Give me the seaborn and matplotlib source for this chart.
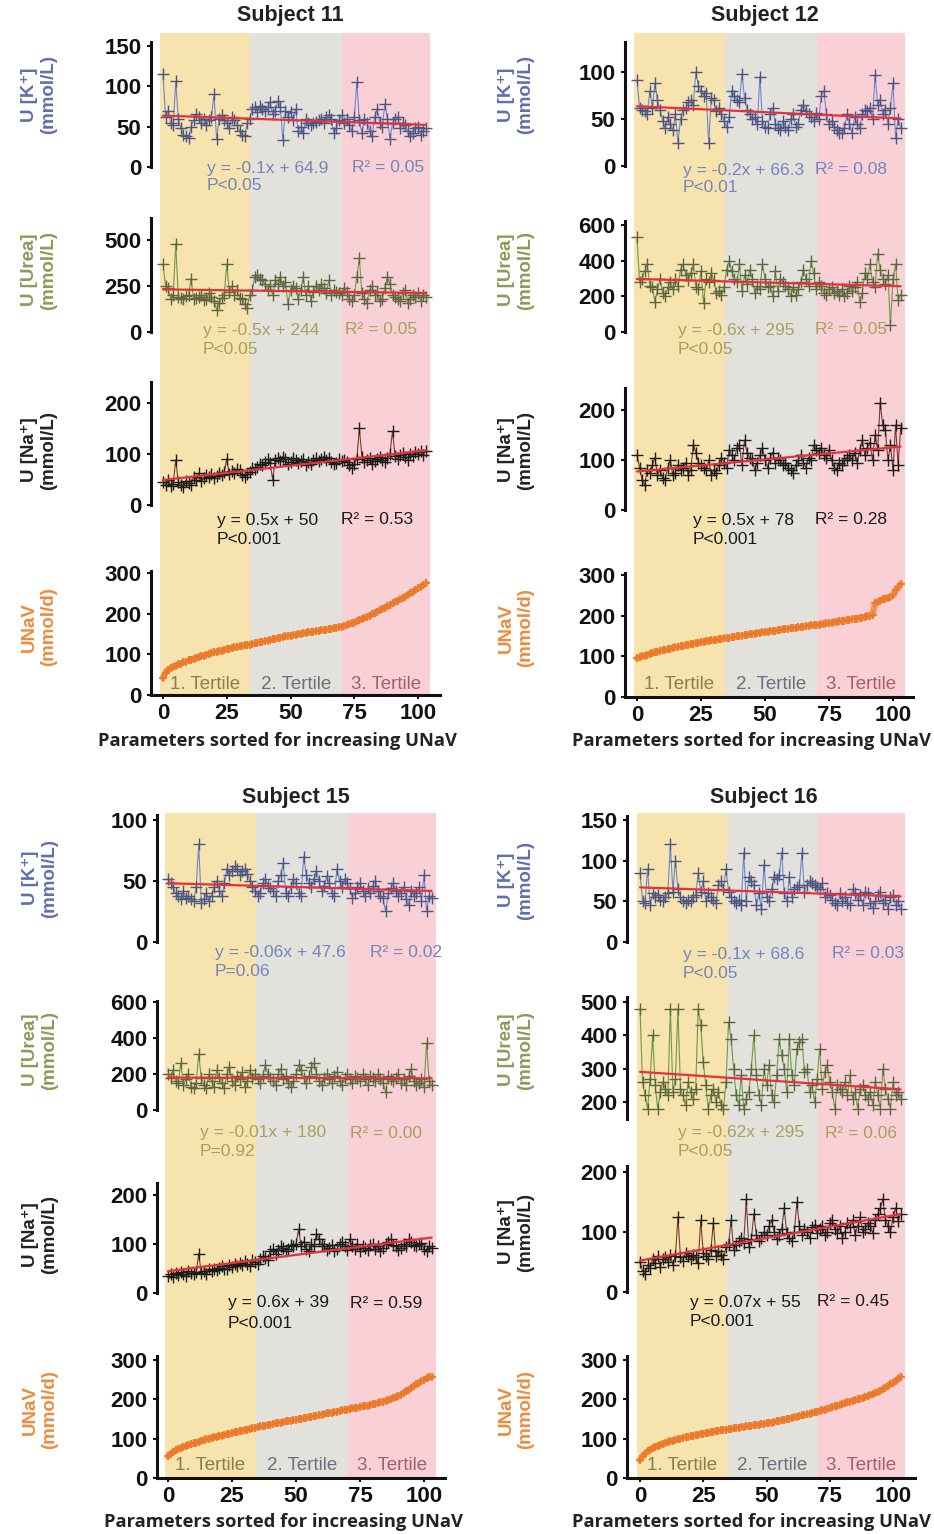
import numpy as np
import matplotlib
matplotlib.use("Agg")
import matplotlib.pyplot as plt
import seaborn as sns

# ---------------- DATA ----------------
K11 = [115,62,70,55,52,106,60,48,40,38,36,50,58,66,62,55,60,52,58,62,
       90,35,60,64,58,55,48,62,58,52,45,40,38,55,60,72,75,68,76,72,
       70,74,80,66,70,82,75,34,70,62,68,58,72,45,50,42,60,55,52,54,
       56,58,60,55,62,65,60,42,48,58,64,55,60,52,45,62,105,58,42,60,
       55,45,38,62,72,55,50,78,60,35,54,60,62,48,55,52,45,38,42,48,
       50,40,45,48]
UREA11 = [370,250,240,180,200,480,190,185,180,195,200,290,180,185,190,200,175,180,210,190,
          170,120,160,185,200,370,220,250,200,230,185,180,150,130,200,230,300,310,290,280,
          260,230,250,200,280,260,300,250,270,150,230,250,240,180,230,300,200,250,170,220,
          250,230,260,240,210,280,200,230,220,210,200,240,220,180,170,200,300,400,210,180,
          160,230,250,200,220,170,180,240,300,260,200,190,180,170,210,230,160,180,200,190,
          210,170,200,190]
NA11 = [45,40,50,38,42,88,45,40,35,48,44,40,55,50,62,48,52,58,55,60,
        52,56,62,58,65,90,60,66,62,70,68,58,55,60,65,72,70,75,80,78,
        85,90,82,50,88,92,86,95,90,80,85,92,88,82,86,90,78,84,80,88,
        92,86,90,95,88,92,85,80,82,90,86,88,84,78,72,80,90,150,95,85,
        88,92,80,86,90,95,88,84,92,100,145,96,90,98,102,94,88,100,96,104,
        100,106,98,105]
UNAV11 = [42,55,62,66,70,72,75,77,80,82,85,87,89,91,93,95,97,99,101,103,
          105,106,108,109,111,112,114,115,117,118,120,121,122,123,124,125,127,128,130,131,
          132,134,135,137,138,140,141,142,144,145,146,147,148,150,151,152,153,154,155,156,
          157,158,159,160,161,162,163,164,165,167,168,170,172,174,176,178,181,184,187,190,
          192,195,198,202,205,208,211,214,218,221,225,228,232,235,238,242,246,250,254,258,
          262,266,270,275]

K12 = [92,62,60,58,55,80,62,88,70,60,48,40,52,45,38,55,25,50,60,62,
       68,70,65,100,85,80,75,78,25,72,70,58,62,55,48,42,52,80,75,70,
       68,98,72,60,55,50,52,45,95,48,42,40,55,62,45,40,38,48,42,38,
       50,55,42,45,60,65,58,55,52,48,56,50,75,80,55,45,48,42,38,35,
       35,40,55,45,35,52,45,40,55,60,58,62,50,97,65,70,55,60,45,62,
       88,30,50,40]
UREA12 = [530,280,300,340,380,260,250,170,240,300,220,200,250,280,240,300,260,350,380,320,
          290,330,380,250,240,340,160,300,280,330,290,220,230,210,250,350,400,340,300,280,
          380,230,320,270,350,300,220,260,240,380,300,250,260,200,340,230,300,280,260,240,
          200,250,210,240,280,350,300,260,400,330,240,280,260,220,210,240,250,220,230,210,
          240,200,220,260,230,250,280,170,220,330,300,380,280,250,440,350,300,270,320,40,
          300,380,180,210]
NA12 = [110,85,60,50,80,75,90,105,70,80,65,60,85,100,70,75,90,80,85,95,
        70,80,130,115,95,90,85,80,100,70,80,75,90,105,95,85,120,110,100,125,
        130,90,140,115,105,100,80,95,110,125,100,85,105,115,95,105,100,90,95,85,
        80,75,90,100,110,95,85,105,100,130,120,115,125,110,105,120,100,85,80,95,
        90,100,105,110,100,115,95,120,140,110,125,135,100,150,120,215,170,160,100,130,
        80,170,90,165]
UNAV12 = [95,98,100,102,104,106,108,110,111,113,115,116,118,119,121,122,123,125,126,127,
          128,130,131,132,133,135,136,137,138,139,140,141,142,143,144,145,146,147,148,149,
          150,151,152,153,154,155,156,157,158,159,160,161,162,163,163,164,165,166,167,168,
          169,170,170,171,172,173,174,175,176,177,177,178,179,180,181,182,183,184,185,186,
          187,188,189,190,191,192,193,194,195,196,198,200,202,230,234,237,240,242,244,246,
          250,262,270,278]

K15 = [52,48,45,40,38,35,42,36,38,35,34,45,80,32,35,40,34,38,45,50,
       42,38,48,60,55,58,62,60,55,58,60,56,50,45,42,38,40,48,52,46,
       44,42,38,50,55,65,40,38,45,52,48,40,38,70,55,48,45,52,58,50,
       42,46,54,48,40,38,60,50,45,52,48,44,36,40,45,48,42,38,44,40,
       46,50,42,38,36,25,40,44,48,42,38,40,45,35,30,42,38,40,45,34,
       55,25,38,36]
UREA15 = [200,180,220,160,150,260,140,170,200,130,120,150,310,180,140,120,200,160,130,220,
          180,150,120,200,240,160,140,190,170,210,130,160,220,180,200,170,150,190,250,200,
          180,160,140,200,230,170,190,150,130,160,200,250,220,180,150,190,240,260,200,160,
          140,180,200,170,150,190,210,160,140,180,200,170,150,190,180,160,200,170,140,190,
          180,160,200,175,150,100,190,170,160,180,200,150,170,140,190,230,160,140,150,170,
          130,370,160,140]
NA15 = [35,38,32,40,36,42,38,35,45,40,38,42,80,40,45,38,48,44,50,46,
        52,55,48,50,58,54,60,56,62,58,65,60,55,68,64,60,70,75,72,68,
        85,90,80,88,95,92,85,90,98,95,100,130,95,105,90,85,100,95,120,110,
        100,95,88,92,98,85,90,100,105,95,88,110,95,90,100,85,95,92,88,98,
        100,90,95,85,92,100,105,110,98,95,88,92,100,96,110,105,98,95,100,102,
        90,85,95,92]
UNAV15 = [55,62,66,70,73,76,79,81,84,86,88,90,92,94,96,98,100,102,104,105,
          107,108,110,111,113,114,116,117,119,120,122,123,125,126,128,129,131,132,133,135,
          136,137,139,140,141,142,144,145,146,147,148,150,151,152,153,155,156,157,158,160,
          161,162,164,165,166,168,169,170,172,173,174,175,177,178,179,180,182,183,184,186,
          187,189,190,192,194,196,198,200,203,206,209,212,216,220,224,228,233,238,242,246,
          250,253,256,258]

K16 = [85,50,48,90,45,60,55,58,52,50,55,60,120,62,100,65,55,50,48,52,
       50,55,58,85,62,75,50,60,55,52,48,70,75,65,90,62,55,50,48,52,
       45,110,50,80,75,70,45,60,40,95,55,50,65,80,78,82,110,60,50,80,
       55,65,68,70,110,62,70,75,72,70,68,65,72,55,60,58,52,48,45,60,
       50,55,48,45,65,60,52,58,45,62,60,48,42,50,58,62,48,52,40,55,
       58,45,50,40]
UREA16 = [480,260,220,180,270,400,250,180,230,260,240,220,480,230,270,480,240,220,190,260,
          230,210,240,480,430,320,250,180,220,240,200,230,190,180,260,440,390,300,220,190,
          280,180,210,230,300,400,280,220,190,300,250,310,220,200,280,390,340,300,230,390,
          280,250,360,380,390,290,300,230,250,200,270,360,240,290,310,260,230,180,250,240,
          230,260,220,280,210,230,180,240,250,220,210,230,190,260,220,180,300,240,210,180,
          260,220,230,210]
NA16 = [50,35,30,45,40,55,48,60,42,55,58,50,62,45,60,125,58,52,65,60,
        55,62,58,48,120,65,60,55,70,115,60,68,62,55,75,80,120,70,78,85,
        90,82,155,75,88,130,95,85,90,100,95,110,120,100,88,95,105,140,98,90,
        85,100,150,110,95,105,100,90,108,112,98,105,110,95,100,115,120,105,98,110,
        90,100,115,108,120,95,110,125,100,105,115,110,98,120,130,140,155,120,110,100,
        125,140,118,130]
UNAV16 = [45,55,62,68,72,76,79,82,85,87,89,91,93,95,97,99,100,102,103,105,
          106,108,109,110,112,113,114,115,116,118,119,120,121,122,123,124,125,126,127,128,
          129,130,131,132,133,134,135,136,137,138,139,140,141,143,144,145,147,148,150,151,
          153,154,156,157,159,160,162,163,165,167,168,170,172,174,176,178,180,182,184,186,
          188,190,192,194,196,198,200,202,204,206,208,210,213,216,219,222,226,230,234,238,
          242,247,252,258]

SUBJECT_TITLES = ["Subject 11", "Subject 12", "Subject 15", "Subject 16"]
EQUATIONS = [["y = -0.1x + 64.9", "y = -0.5x + 244", "y = 0.5x + 50"],
             ["y = -0.2x + 66.3", "y = -0.6x + 295", "y = 0.5x + 78"],
             ["y = -0.06x + 47.6", "y = -0.01x + 180", "y = 0.6x + 39"],
             ["y = -0.1x + 68.6", "y = -0.62x + 295", "y = 0.07x + 55"]]
R2_LABELS = [["R² = 0.05", "R² = 0.05", "R² = 0.53"],
             ["R² = 0.08", "R² = 0.05", "R² = 0.28"],
             ["R² = 0.02", "R² = 0.00", "R² = 0.59"],
             ["R² = 0.03", "R² = 0.06", "R² = 0.45"]]
P_LABELS = [["P<0.05", "P<0.05", "P<0.001"],
            ["P<0.01", "P<0.05", "P<0.001"],
            ["P=0.06", "P=0.92", "P<0.001"],
            ["P<0.05", "P<0.05", "P<0.001"]]
YLABELS = ["U [K⁺]\n(mmol/L)", "U [Urea]\n(mmol/L)", "U [Na⁺]\n(mmol/L)", "UNaV\n(mmol/d)"]
TERTILE_LABELS = ["1. Tertile", "2. Tertile", "3. Tertile"]
XTICKS = [0, 25, 50, 75, 100]
XLABEL = "Parameters sorted for increasing UNaV"
SERIES = [[K11, UREA11, NA11, UNAV11], [K12, UREA12, NA12, UNAV12],
          [K15, UREA15, NA15, UNAV15], [K16, UREA16, NA16, UNAV16]]

# ---------------- STYLE / LAYOUT ----------------
sns.set_theme(style="ticks")
plt.rcParams["font.family"] = ["Liberation Sans", "DejaVu Sans"]

W, H = 934, 1534
fig = plt.figure(figsize=(W / 100, H / 100), dpi=100)

def fx(px):
    return px / W

def fy(py):
    return 1 - py / H

TERT_BOUNDS = [-1.2, 34.2, 70.2, 104.8]
TERT_COLORS = ["#f6e3ad", "#e3e1dc", "#f8d0d5"]
TERT_TEXT = ["#8a7f4a", "#6e6e7c", "#a45f6c"]
LINE_COL = ["#6f86cc", "#6f9a48", "#7a3a30", "#f5954a"]
MARK_COL = ["#4e5680", "#5e6540", "#1c1c1c", "#ec7a2c"]
TXT_COL = ["#7585ba", "#a8a060", "#1a1a1a"]
YLAB_COL = ["#5f6fab", "#8c9a5a", "#222222", "#f08a3c"]

layouts = [
    dict(spine=151, right=440, x0=163, x100=418, title=(290, 16), xlab=(277, 741), ylx=39, terty=684,
         panels=[dict(slot=(33, 200), m=((0, 167), (150, 46)), sb=(0, 155), t=[0, 50, 100, 150],
                      eq=(207, 168), r2=(352, 168), p=(207, 186), yly=95),
                 dict(slot=(200, 372), m=((0, 332), (500, 240)), sb=(0, 620), t=[0, 250, 500],
                      eq=(203, 330), r2=(345, 330), p=(203, 349), yly=270),
                 dict(slot=(372, 560), m=((0, 505), (200, 403)), sb=(0, 242), t=[0, 100, 200],
                      eq=(217, 520), r2=(341, 520), p=(217, 540), yly=450),
                 dict(slot=(560, 695), m=((0, 695), (300, 573)), sb=(0, 305), t=[0, 100, 200, 300], yly=627)]),
    dict(spine=625, right=913, x0=637, x100=893, title=(765, 16), xlab=(752, 741), ylx=516, terty=684,
         panels=[dict(slot=(33, 200), m=((0, 166), (100, 72)), sb=(0, 132), t=[0, 50, 100],
                      eq=(683, 170), r2=(815, 170), p=(683, 187), yly=95),
                 dict(slot=(200, 372), m=((0, 332), (600, 225)), sb=(0, 625), t=[0, 200, 400, 600],
                      eq=(678, 330), r2=(815, 330), p=(678, 350), yly=270),
                 dict(slot=(372, 560), m=((0, 510), (200, 410)), sb=(0, 245), t=[0, 100, 200],
                      eq=(693, 520), r2=(815, 520), p=(693, 540), yly=450),
                 dict(slot=(560, 697), m=((0, 697), (300, 575)), sb=(0, 305), t=[0, 100, 200, 300], yly=628)]),
    dict(spine=157, right=445, x0=168, x100=424, title=(296, 797), xlab=(284, 1522), ylx=40, terty=1465,
         panels=[dict(slot=(813, 980), m=((0, 942), (100, 820)), sb=(0, 104), t=[0, 50, 100],
                      eq=(215, 953), r2=(370, 953), p=(215, 972), yly=878),
                 dict(slot=(980, 1160), m=((0, 1110), (600, 1002)), sb=(0, 605), t=[0, 200, 400, 600],
                      eq=(200, 1133), r2=(350, 1133), p=(200, 1152), yly=1050),
                 dict(slot=(1160, 1340), m=((0, 1293), (200, 1195)), sb=(0, 225), t=[0, 100, 200],
                      eq=(228, 1303), r2=(350, 1303), p=(228, 1323), yly=1235),
                 dict(slot=(1340, 1478), m=((0, 1478), (300, 1360)), sb=(0, 310), t=[0, 100, 200, 300], yly=1410)]),
    dict(spine=627, right=915, x0=640, x100=893, title=(764, 797), xlab=(752, 1522), ylx=516, terty=1465,
         panels=[dict(slot=(813, 980), m=((0, 942), (150, 820)), sb=(0, 155), t=[0, 50, 100, 150],
                      eq=(683, 954), r2=(832, 954), p=(683, 973), yly=880),
                 dict(slot=(980, 1160), m=((200, 1102), (500, 1002)), sb=(150, 515), t=[200, 300, 400, 500],
                      eq=(678, 1133), r2=(825, 1133), p=(678, 1151), yly=1050),
                 dict(slot=(1160, 1340), m=((0, 1292), (200, 1172)), sb=(0, 210), t=[0, 100, 200],
                      eq=(690, 1302), r2=(817, 1302), p=(690, 1322), yly=1232),
                 dict(slot=(1340, 1478), m=((0, 1478), (300, 1360)), sb=(0, 310), t=[0, 100, 200, 300], yly=1410)]),
]

for si, lay in enumerate(layouts):
    ppu = (lay["x100"] - lay["x0"]) / 100.0
    xlo = (lay["spine"] - lay["x0"]) / ppu
    xhi = (lay["right"] - lay["x0"]) / ppu
    for pi, pan in enumerate(lay["panels"]):
        top, bot = pan["slot"]
        (va, pa), (vb, pb) = pan["m"]
        upp = (vb - va) / (pa - pb)
        ylo = va - (bot - pa) * upp
        yhi = va + (pa - top) * upp
        ax = fig.add_axes([fx(lay["spine"]), fy(bot), (lay["right"] - lay["spine"]) / W, (bot - top) / H])
        ax.set_facecolor("none")
        for k in range(3):
            ax.axvspan(TERT_BOUNDS[k], TERT_BOUNDS[k + 1], color=TERT_COLORS[k], lw=0, zorder=0)
        y = np.asarray(SERIES[si][pi], dtype=float)
        x = np.arange(len(y))
        if pi < 3:
            sns.lineplot(x=x, y=y, ax=ax, color=LINE_COL[pi], lw=0.8, marker="+", markersize=8,
                         markeredgewidth=1.0, markeredgecolor=MARK_COL[pi], estimator=None, zorder=2)
            sns.regplot(x=x, y=y, ax=ax, scatter=False, ci=None, color="#e8303a",
                        line_kws=dict(lw=1.6, zorder=3))
        else:
            sns.lineplot(x=x, y=y, ax=ax, color=LINE_COL[pi], lw=4.5, marker="+", markersize=6,
                         markeredgewidth=1.3, markeredgecolor=MARK_COL[pi], estimator=None, zorder=2)
        ax.set_xlim(xlo, xhi)
        ax.set_ylim(ylo, yhi)
        ax.set_xlabel("")
        ax.set_ylabel("")
        for s in ["top", "right"]:
            ax.spines[s].set_visible(False)
        ax.spines["left"].set_bounds(*pan["sb"])
        ax.spines["left"].set_linewidth(2.2)
        ax.spines["left"].set_color("#111111")
        ax.set_yticks(pan["t"])
        ax.set_yticklabels([str(t) for t in pan["t"]], fontsize=16, fontweight="bold", color="#111111")
        ax.tick_params(axis="y", length=3, width=1.5, pad=4, colors="#111111")
        if pi < 3:
            ax.spines["bottom"].set_visible(False)
            ax.set_xticks([])
            ax.tick_params(axis="x", length=0)
            fig.text(fx(pan["eq"][0]), fy(pan["eq"][1]), EQUATIONS[si][pi], fontsize=12.5,
                     color=TXT_COL[pi], ha="left", va="center")
            fig.text(fx(pan["r2"][0]), fy(pan["r2"][1]), R2_LABELS[si][pi], fontsize=12.5,
                     color=TXT_COL[pi], ha="left", va="center")
            fig.text(fx(pan["p"][0]), fy(pan["p"][1]), P_LABELS[si][pi], fontsize=12.5,
                     color=TXT_COL[pi], ha="left", va="center")
        else:
            ax.spines["bottom"].set_linewidth(2.2)
            ax.spines["bottom"].set_color("#111111")
            ax.set_xticks(XTICKS)
            ax.set_xticklabels([str(t) for t in XTICKS], fontsize=16, fontweight="bold", color="#111111")
            ax.tick_params(axis="x", length=3, width=1.5, pad=3, colors="#111111")
            for k in range(3):
                cx = (TERT_BOUNDS[k] + TERT_BOUNDS[k + 1]) / 2
                px = lay["x0"] + cx * ppu
                fig.text(fx(px), fy(lay["terty"]), TERTILE_LABELS[k], fontsize=13.5,
                         color=TERT_TEXT[k], ha="center", va="center")
        fig.text(fx(lay["ylx"]), fy(pan["yly"]), YLABELS[pi], rotation=90, fontsize=13.5,
                 fontweight="bold", color=YLAB_COL[pi], ha="center", va="center",
                 multialignment="center", linespacing=1.1)
    fig.text(fx(lay["title"][0]), fy(lay["title"][1]), SUBJECT_TITLES[si], fontsize=15.5,
             fontweight="bold", color="#222222", ha="center", va="center")
    fig.text(fx(lay["xlab"][0]), fy(lay["xlab"][1]), XLABEL, fontsize=13.2, fontweight="bold",
             color="#222222", ha="center", va="center", family=["Open Sans", "DejaVu Sans"])

fig.savefig("out.png", dpi=100, facecolor="white")
